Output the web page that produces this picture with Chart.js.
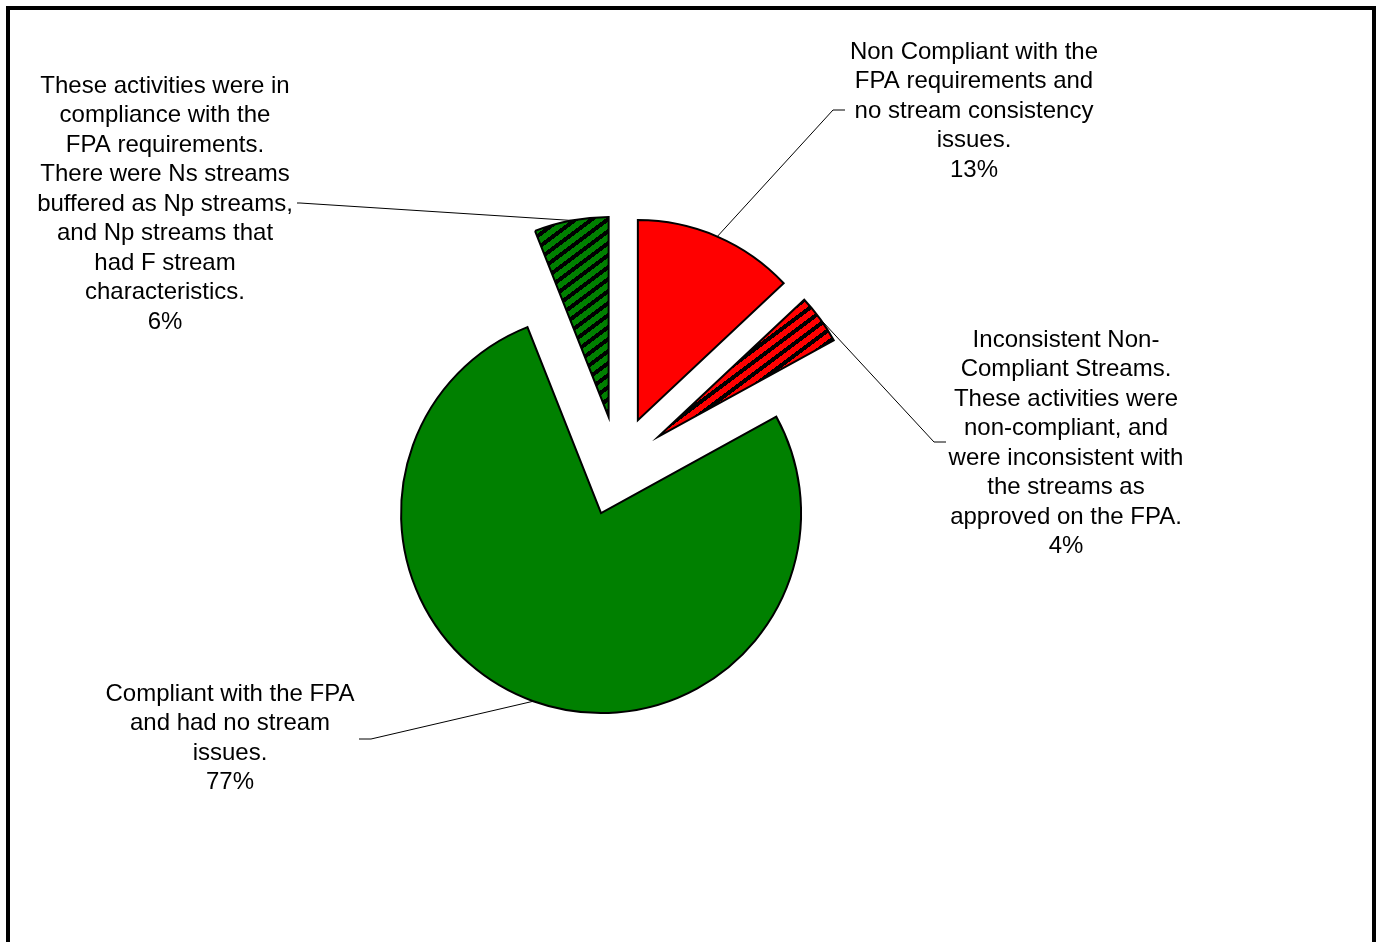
<!DOCTYPE html>
<html>
<head>
<meta charset="utf-8">
<script src="https://cdn.jsdelivr.net/npm/chart.js@4.4.1/dist/chart.umd.min.js"></script>
<style>
  html, body { margin: 0; padding: 0; background: #fff; overflow: hidden; }
</style>
</head>
<body>
<canvas id="pie" width="1381" height="942"></canvas>
<script>
// slice order runs clockwise from 12 o'clock
const categories = [
  'Non Compliant, no stream issues',
  'Inconsistent Non-Compliant Streams',
  'Compliant, no stream issues',
  'Compliant with stream type issues'
];
const shares = [13, 4, 77, 6];
const descriptions = [
  ['Non Compliant with the', 'FPA requirements and', 'no stream consistency', 'issues.'],
  ['Inconsistent Non-', 'Compliant Streams.', 'These activities were', 'non-compliant, and',
   'were inconsistent with', 'the streams as', 'approved on the FPA.'],
  ['Compliant with the FPA', 'and had no stream', 'issues.'],
  ['These activities were in', 'compliance with the', 'FPA requirements.', 'There were Ns streams',
   'buffered as Np streams,', 'and Np streams that', 'had F stream', 'characteristics.']
];

// where each text block sits and how its leader bends
const labelLayout = [
  { x: 974, y: 52, elbow: [833, 110], end: [845, 110] },
  { x: 1066, y: 340, elbow: [934, 442], end: [946, 442] },
  { x: 230, y: 694, elbow: [371, 739], end: [359, 739] },
  { x: 165, y: 86, elbow: [300, 203], end: [297, 203] }
];
const lineHeight = 29.5;

// wide upward-diagonal hatch, stripes rising 3px per 4px
function stripes(base) {
  const w = 16, h = 12;
  const c = document.createElement('canvas');
  c.width = w;
  c.height = h;
  const g = c.getContext('2d');
  g.fillStyle = base;
  g.fillRect(0, 0, w, h);
  g.fillStyle = '#000';
  for (let y = 0; y < h; y++) {
    for (let x = 0; x < w; x++) {
      if ((3 * x + 4 * y) % 48 < 20) g.fillRect(x, y, 1, 1);
    }
  }
  return g.createPattern(c, 'repeat');
}

const sliceFills = ['#ff0000', stripes('#ff0000'), '#008000', stripes('#008000')];

// pull every slice out along its middle angle
const explode = {
  id: 'explode',
  afterDatasetsUpdate(chart, args, opts) {
    const area = chart.chartArea;
    const cx = (area.left + area.right) / 2;
    const cy = (area.top + area.bottom) / 2;
    chart.getDatasetMeta(0).data.forEach(arc => {
      const mid = (arc.startAngle + arc.endAngle) / 2;
      arc.x = cx + Math.cos(mid) * opts.distance;
      arc.y = cy + Math.sin(mid) * opts.distance;
    });
  }
};

const calloutLabels = {
  id: 'calloutLabels',
  afterDatasetsDraw(chart) {
    const ctx = chart.ctx;
    const meta = chart.getDatasetMeta(0);
    ctx.save();
    meta.data.forEach((arc, i) => {
      const lay = labelLayout[i];
      const mid = (arc.startAngle + arc.endAngle) / 2;
      const sx = arc.x + Math.cos(mid) * arc.outerRadius;
      const sy = arc.y + Math.sin(mid) * arc.outerRadius;
      ctx.strokeStyle = '#000';
      ctx.lineWidth = 1;
      ctx.beginPath();
      ctx.moveTo(sx, sy);
      ctx.lineTo(lay.elbow[0], lay.elbow[1]);
      ctx.lineTo(lay.end[0], lay.end[1]);
      ctx.stroke();

      const lines = descriptions[i].concat([shares[i] + '%']);
      ctx.fillStyle = '#000';
      ctx.font = '24px "Liberation Sans", Arial, sans-serif';
      ctx.textAlign = 'center';
      ctx.textBaseline = 'middle';
      lines.forEach((t, k) => ctx.fillText(t, lay.x, lay.y + k * lineHeight));
    });
    ctx.restore();
  }
};

const frame = {
  id: 'frame',
  afterDraw(chart) {
    const ctx = chart.ctx;
    ctx.save();
    ctx.strokeStyle = '#000';
    ctx.lineWidth = 4;
    ctx.strokeRect(8, 8, 1366, 960);
    ctx.restore();
  }
};

new Chart(document.getElementById('pie'), {
  type: 'pie',
  data: {
    labels: categories,
    datasets: [{
      data: shares,
      backgroundColor: sliceFills,
      borderColor: '#000',
      borderWidth: 2,
      borderJoinStyle: 'miter',
      radius: 200
    }]
  },
  options: {
    responsive: false,
    devicePixelRatio: 1,
    animation: false,
    events: [],
    rotation: 0,
    layout: { padding: { left: 0, right: 145, top: 0, bottom: 10 } },
    plugins: {
      legend: { display: false },
      tooltip: { enabled: false },
      explode: { distance: 50 }
    }
  },
  plugins: [explode, calloutLabels, frame]
});
</script>
</body>
</html>
